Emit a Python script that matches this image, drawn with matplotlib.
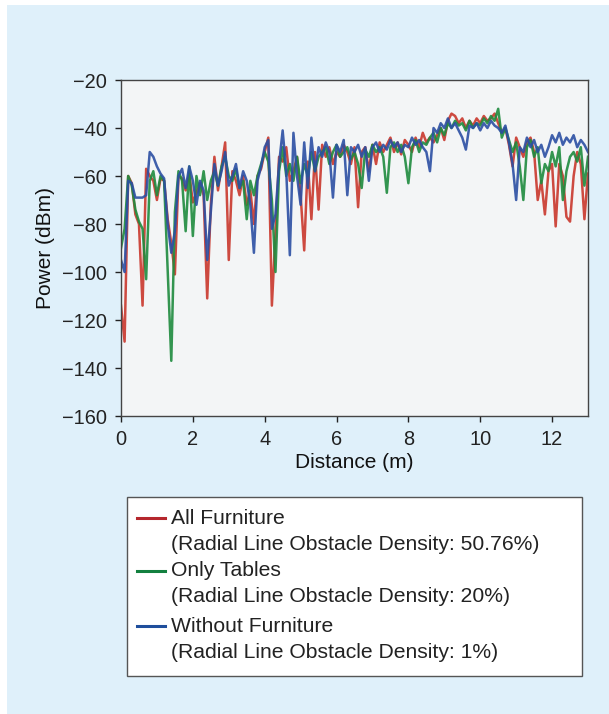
import matplotlib
matplotlib.use("Agg")
import matplotlib.pyplot as plt
from matplotlib.patches import Rectangle
from matplotlib.lines import Line2D

plt.rcParams['font.family'] = ['Liberation Sans', 'DejaVu Sans']

distance = [
    0.0, 0.1, 0.2, 0.3, 0.4, 0.5, 0.6, 0.7, 0.8, 0.9,
    1.0, 1.1, 1.2, 1.3, 1.4, 1.5, 1.6, 1.7, 1.8, 1.9,
    2.0, 2.1, 2.2, 2.3, 2.4, 2.5, 2.6, 2.7, 2.8, 2.9,
    3.0, 3.1, 3.2, 3.3, 3.4, 3.5, 3.6, 3.7, 3.8, 3.9,
    4.0, 4.1, 4.2, 4.3, 4.4, 4.5, 4.6, 4.7, 4.8, 4.9,
    5.0, 5.1, 5.2, 5.3, 5.4, 5.5, 5.6, 5.7, 5.8, 5.9,
    6.0, 6.1, 6.2, 6.3, 6.4, 6.5, 6.6, 6.7, 6.8, 6.9,
    7.0, 7.1, 7.2, 7.3, 7.4, 7.5, 7.6, 7.7, 7.8, 7.9,
    8.0, 8.1, 8.2, 8.3, 8.4, 8.5, 8.6, 8.7, 8.8, 8.9,
    9.0, 9.1, 9.2, 9.3, 9.4, 9.5, 9.6, 9.7, 9.8, 9.9,
    10.0, 10.1, 10.2, 10.3, 10.4, 10.5, 10.6, 10.7, 10.8, 10.9,
    11.0, 11.1, 11.2, 11.3, 11.4, 11.5, 11.6, 11.7, 11.8, 11.9,
    12.0, 12.1, 12.2, 12.3, 12.4, 12.5, 12.6, 12.7, 12.8, 12.9,
    13.0,
]

all_furniture = [
    -114, -129, -60, -63, -76, -80, -114, -57, -60, -62,
    -70, -61, -62, -78, -88, -101, -60, -61, -66, -59,
    -71, -67, -63, -68, -111, -72, -52, -66, -56, -46,
    -95, -58, -62, -68, -60, -72, -66, -80, -60, -57,
    -50, -44, -114, -84, -52, -54, -48, -62, -58, -52,
    -68, -91, -54, -78, -50, -74, -47, -52, -48, -55,
    -50, -52, -47, -50, -55, -48, -73, -50, -48, -58,
    -47, -55, -46, -50, -47, -44, -50, -46, -51, -45,
    -47, -50, -44, -48, -42, -46, -44, -46, -43, -40,
    -45, -37, -34, -35, -38, -36, -40, -37, -39, -36,
    -38, -35, -37, -36, -34, -38, -42, -40, -47, -56,
    -44, -48, -52, -46, -44, -50, -70, -62, -76, -58,
    -55, -81, -55, -60, -77, -79, -60, -50, -55, -78,
    -59,
]

only_tables = [
    -90, -82, -60, -64, -74, -79, -82, -103, -62, -58,
    -68, -60, -62, -100, -137, -75, -58, -62, -83, -56,
    -85, -60, -68, -58, -70, -62, -58, -64, -56, -52,
    -60, -62, -57, -65, -62, -78, -62, -68, -60, -55,
    -50, -54, -70, -100, -58, -48, -60, -55, -62, -52,
    -63, -55, -60, -50, -58, -52, -50, -48, -55, -50,
    -47, -52, -50, -48, -53, -50, -55, -65, -49, -52,
    -47, -50, -48, -52, -67, -48, -46, -50, -47, -52,
    -63, -48, -45, -50, -46, -47, -44, -42, -46, -40,
    -43, -38, -40, -37, -39, -38, -41, -37, -40, -38,
    -39, -36, -38, -35, -37, -32, -44, -40, -45, -50,
    -46, -56, -70, -48, -45, -52, -48, -63, -55, -58,
    -50, -56, -48, -70, -58, -52, -50, -54, -48, -64,
    -52,
]

without_furniture = [
    -95, -100, -62, -63, -69, -69, -69, -68, -50, -52,
    -56, -59, -61, -80, -92, -83, -60, -57, -65, -56,
    -62, -72, -62, -66, -95, -75, -55, -64, -58, -50,
    -64, -60, -55, -65, -58, -62, -72, -92, -62, -56,
    -48, -45, -82, -76, -55, -41, -58, -93, -42, -60,
    -72, -46, -65, -44, -58, -48, -52, -46, -50, -69,
    -47, -50, -45, -68, -48, -50, -47, -52, -48, -62,
    -48, -46, -50, -47, -49, -45, -48, -46, -50, -47,
    -48, -44, -47, -45, -48, -50, -58, -40, -42, -38,
    -40, -36, -40, -38, -41, -44, -49, -39, -40, -38,
    -41, -38, -40, -37, -39, -40, -42, -39, -46, -55,
    -70, -48, -50, -44, -48, -45, -50, -47, -52, -48,
    -43, -46, -42, -47, -44, -46, -43, -48, -45, -47,
    -50,
]

series_names = ["All Furniture", "Only Tables", "Without Furniture"]
series_notes = [
    "(Radial Line Obstacle Density: 50.76%)",
    "(Radial Line Obstacle Density: 20%)",
    "(Radial Line Obstacle Density: 1%)",
]
series_colors = ["#c9372c", "#1e8b3e", "#2b4fa3"]
legend_colors = ["#b5272d", "#13803f", "#1f4e9c"]

y_ticks = [-160, -140, -120, -100, -80, -60, -40, -20]
x_ticks = [0, 2, 4, 6, 8, 10, 12]

W, H = 609, 714
fig = plt.figure(figsize=(W / 100, H / 100), dpi=100)
fig.patch.set_facecolor("white")
# light blue panel background
fig.patches.append(Rectangle((7 / W, 0), 1 - 7 / W, 1 - 5 / H,
                             transform=fig.transFigure, facecolor="#dff0fa",
                             edgecolor="none", zorder=-10))

ax = fig.add_axes([121 / W, 1 - 416 / H, (588 - 121) / W, (416 - 80) / H])
ax.set_facecolor("#f3f5f6")

for vals, col in zip([all_furniture, only_tables, without_furniture], series_colors):
    ax.plot(distance, vals, color=col, lw=1.8, alpha=0.9, solid_joinstyle="round")

ax.set_xlim(0, 13)
ax.set_ylim(-160, -20)
ax.set_yticks(y_ticks)
ax.set_xticks(x_ticks)
ax.set_yticklabels([("\u2212%d" % abs(v)) for v in y_ticks])
ax.set_xticklabels([str(v) for v in x_ticks])
ax.tick_params(axis="both", direction="out", length=4, width=1, colors="#222222",
               labelsize=14.4, pad=6)
for s in ax.spines.values():
    s.set_color("#444444")
    s.set_linewidth(1.0)
ax.set_xlabel("Distance (m)", fontsize=15, color="#111111", labelpad=3)
ax.set_ylabel("Power (dBm)", fontsize=15, color="#111111", labelpad=5)

# legend box drawn in figure pixels
fig.patches.append(Rectangle((127 / W, 1 - 676 / H), (582 - 127) / W, (676 - 497) / H,
                             transform=fig.transFigure, facecolor="white",
                             edgecolor="#555555", lw=1.0, zorder=1))
row_y = [518, 571, 626]
for name, note, col, ry in zip(series_names, series_notes, legend_colors, row_y):
    fig.lines.append(Line2D([137 / W, 165 / W], [1 - ry / H, 1 - ry / H],
                            transform=fig.transFigure, color=col, lw=2.2, zorder=2))
    fig.text(171 / W, 1 - ry / H, name, fontsize=15.2, color="#222222",
             va="center", ha="left", zorder=3)
    fig.text(171 / W, 1 - (ry + 26) / H, note, fontsize=15.2, color="#222222",
             va="center", ha="left", zorder=3)

fig.savefig("out.png", dpi=100, facecolor=fig.get_facecolor())
